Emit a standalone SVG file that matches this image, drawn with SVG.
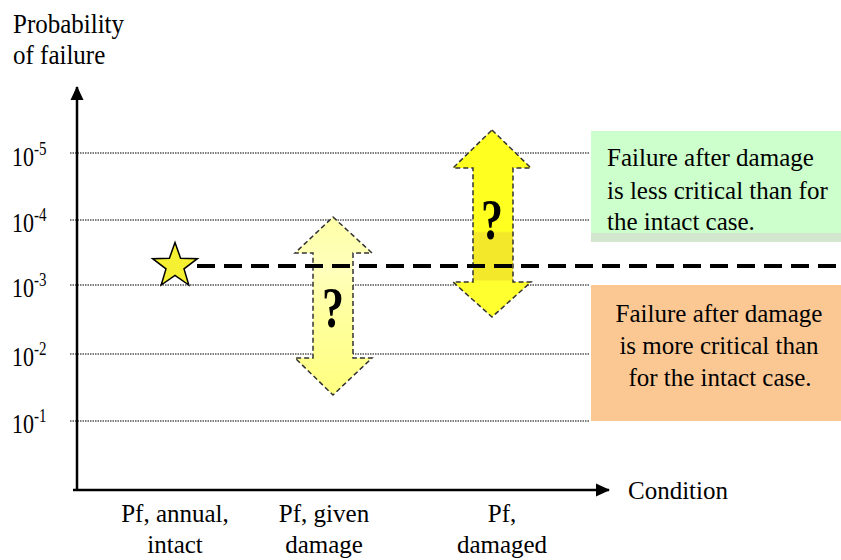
<svg xmlns="http://www.w3.org/2000/svg" width="841" height="560" viewBox="0 0 841 560" font-family="'Liberation Serif', 'DejaVu Serif', serif">
<style>
text{font-family:'Liberation Serif','DejaVu Serif',serif;fill:#000}
.lbl{font-size:25px}
.tick{font-size:22px}
.sup{font-size:15px}
.grid{stroke:#555;stroke-width:1.3;stroke-dasharray:1.5,1}
.axis{stroke:#000;stroke-width:2.5;fill:none}
.arr{stroke:#333;stroke-width:1.5;stroke-dasharray:5,3}
.q{font-size:44px;font-weight:bold;text-anchor:middle}
.mid{text-anchor:middle}
</style>
<defs>
<marker id="ah" markerWidth="14" markerHeight="14" refX="13" refY="7" orient="auto" markerUnits="userSpaceOnUse">
<path d="M0,0.5 L14,7 L0,13.5 Z" fill="#000"/>
</marker>
<linearGradient id="g1" x1="0" y1="0" x2="0" y2="1">
<stop offset="0" stop-color="#FFFFA8"/>
<stop offset="0.3" stop-color="#FFFFBC"/>
<stop offset="0.55" stop-color="#FFFF9E"/>
<stop offset="1" stop-color="#FFFF80"/>
</linearGradient>
<linearGradient id="g2" x1="0" y1="0" x2="0" y2="1">
<stop offset="0" stop-color="#FFFF20"/>
<stop offset="0.54" stop-color="#FFFF20"/>
<stop offset="0.55" stop-color="#F4E82A"/>
<stop offset="0.8" stop-color="#F4E82A"/>
<stop offset="0.81" stop-color="#FFFF30"/>
<stop offset="1" stop-color="#FFFF30"/>
</linearGradient>
</defs>

<g id="title">
<text class="lbl" transform="translate(13,33) scale(1,1.1)">Probability</text>
<text class="lbl" transform="translate(13,64) scale(1,1.1)">of failure</text>
</g>

<g id="boxes">
<g id="box-green">
<rect x="591" y="131" width="250" height="111" fill="#CCFFCC"/>
<rect x="591" y="233" width="250" height="9" fill="#D3E6CE"/>
<text class="lbl" x="607" y="166">Failure after damage</text>
<text class="lbl" x="607" y="199">is less critical than for</text>
<text class="lbl" x="607" y="230">the intact case.</text>
</g>
<g id="box-orange">
<rect x="591" y="285" width="250" height="136" fill="#FBC894"/>
<text class="lbl mid" x="719" y="322">Failure after damage</text>
<text class="lbl mid" x="719" y="354">is more critical than</text>
<text class="lbl mid" x="720" y="386">for the intact case.</text>
</g>
</g>

<g id="grid">
<line class="grid" x1="70" y1="153" x2="590" y2="153"/>
<line class="grid" x1="70" y1="220" x2="590" y2="220"/>
<line class="grid" x1="70" y1="285" x2="590" y2="285"/>
<line class="grid" x1="70" y1="354" x2="590" y2="354"/>
<line class="grid" x1="70" y1="421" x2="590" y2="421"/>
</g>

<g id="ticks">
<text class="tick" transform="translate(12,166) scale(1,1.2)">10<tspan class="sup" dy="-9">-5</tspan></text>
<text class="tick" transform="translate(12,232) scale(1,1.2)">10<tspan class="sup" dy="-9">-4</tspan></text>
<text class="tick" transform="translate(12,297) scale(1,1.2)">10<tspan class="sup" dy="-9">-3</tspan></text>
<text class="tick" transform="translate(12,366) scale(1,1.2)">10<tspan class="sup" dy="-9">-2</tspan></text>
<text class="tick" transform="translate(12,433) scale(1,1.2)">10<tspan class="sup" dy="-9">-1</tspan></text>
</g>

<g id="axes">
<line class="axis" x1="77" y1="491" x2="77" y2="87" marker-end="url(#ah)"/>
<line class="axis" x1="73" y1="490" x2="609" y2="490" marker-end="url(#ah)"/>
<text class="lbl" x="628" y="499">Condition</text>
</g>

<g id="arrow-given">
<polygon class="arr" fill="url(#g1)" points="333,217 372,253 353,253 353,358 372,358 333,395 295,358 313,358 313,253 295,253"/>
<text class="q" transform="translate(333,327) scale(1,1.3)">?</text>
</g>

<g id="arrow-damaged">
<polygon class="arr" fill="url(#g2)" points="492,130 531,168 513,168 513,282 531,282 492,317 453,282 473,282 473,168 453,168"/>
<text class="q" transform="translate(492,239) scale(1,1.3)">?</text>
</g>

<g id="connectors">
<line x1="197" y1="266" x2="841" y2="266" stroke="#000" stroke-width="4" stroke-dasharray="18,9"/>
</g>

<g id="star">
<polygon fill="#F5F032" stroke="#000" stroke-width="1.5" points="175,242.5 180.6,258.3 197.4,258.7 184,268.9 188.8,285 175,275.5 161.2,285 166,268.9 152.6,258.7 169.4,258.3"/>
</g>

<g id="xlabels">
<text class="lbl mid" x="175" y="522">Pf, annual,</text>
<text class="lbl mid" x="175" y="553">intact</text>
<text class="lbl mid" x="324" y="522">Pf, given</text>
<text class="lbl mid" x="324" y="553">damage</text>
<text class="lbl mid" x="502" y="522">Pf,</text>
<text class="lbl mid" x="502" y="553">damaged</text>
</g>
</svg>
